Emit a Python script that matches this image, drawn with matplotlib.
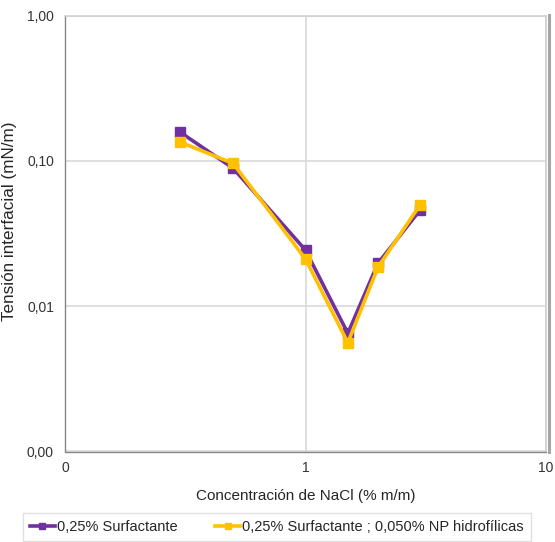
import matplotlib
matplotlib.use("Agg")
import matplotlib.pyplot as plt
from matplotlib.lines import Line2D
from matplotlib.ticker import FixedLocator, FixedFormatter, NullLocator

plt.rcParams['font.family'] = ['Liberation Sans', 'DejaVu Sans']

# NaCl concentration (% m/m) and interfacial tension (mN/m)
nacl = [0.3, 0.5, 1.0, 1.5, 2.0, 3.0]
tension_surf = [0.158, 0.089, 0.0243, 0.0065, 0.0197, 0.046]
tension_surf_np = [0.135, 0.096, 0.0211, 0.0056, 0.0185, 0.050]

series_labels = ["0,25% Surfactante", "0,25% Surfactante ; 0,050% NP hidrofílicas"]
x_ticks = [0.1, 1, 10]
x_ticklabels = ["0", "1", "10"]
y_ticks = [0.001, 0.01, 0.1, 1]
y_ticklabels = ["0,00", "0,01", "0,10", "1,00"]

fig = plt.figure(figsize=(5.55, 5.42), dpi=100)
W, H = 555, 542
ax = fig.add_axes([65 / W, 1 - 451.5 / H, (546 - 65) / W, (451.5 - 15.5) / H])

ax.set_xscale('log')
ax.set_yscale('log')
ax.set_xlim(0.1, 10)
ax.set_ylim(0.001, 1)

ax.xaxis.set_major_locator(FixedLocator(x_ticks))
ax.xaxis.set_major_formatter(FixedFormatter(x_ticklabels))
ax.xaxis.set_minor_locator(NullLocator())
ax.yaxis.set_major_locator(FixedLocator(y_ticks))
ax.yaxis.set_major_formatter(FixedFormatter(y_ticklabels))
ax.yaxis.set_minor_locator(NullLocator())

ax.grid(True, which='major', color='#D9D9D9', linewidth=1.2)
ax.set_axisbelow(True)
ax.tick_params(length=0, labelsize=10, colors='#333333', pad=8)
ax.tick_params(axis='x', pad=7)

for side in ['left', 'bottom']:
    ax.spines[side].set_color('#868686')
    ax.spines[side].set_linewidth(1.0)
for side in ['top', 'right']:
    ax.spines[side].set_color('#D0D0D0')
    ax.spines[side].set_linewidth(1.2)

# darker frame edge on the right-hand side of the chart
fig.add_artist(Line2D([549 / W, 549 / W], [1 - 452 / H, 1 - 15 / H],
                      transform=fig.transFigure, color='#A6A6A6', linewidth=2.2))

ax.plot(nacl, tension_surf, color='#7030A0', linewidth=2.6, marker='s',
        markersize=6.5, label=series_labels[0], zorder=3)
ax.plot(nacl, tension_surf_np, color='#FFC000', linewidth=2.6, marker='s',
        markersize=6.5, label=series_labels[1], zorder=4)

ax.set_xlabel("Concentración de NaCl (% m/m)", fontsize=11, color='#262626', labelpad=10)
ax.set_ylabel("Tensión interfacial (mN/m)", fontsize=12.3, color='#262626')
ax.yaxis.set_label_coords((17 - 65) / (546 - 65), (451.5 - 221) / (451.5 - 15.5))

leg = fig.legend(loc='center', bbox_to_anchor=(277 / W, 1 - 527 / H), ncol=2,
                 frameon=True, fancybox=False, fontsize=10.5, handlelength=1.7,
                 handletextpad=0.15, columnspacing=2.6, borderpad=0.45,
                 borderaxespad=0, markerscale=0.75)
leg.get_frame().set_edgecolor('#D9D9D9')
leg.get_frame().set_linewidth(1.0)
for t in leg.get_texts():
    t.set_color('#262626')

fig.savefig("out.png", dpi=100, facecolor='white')
